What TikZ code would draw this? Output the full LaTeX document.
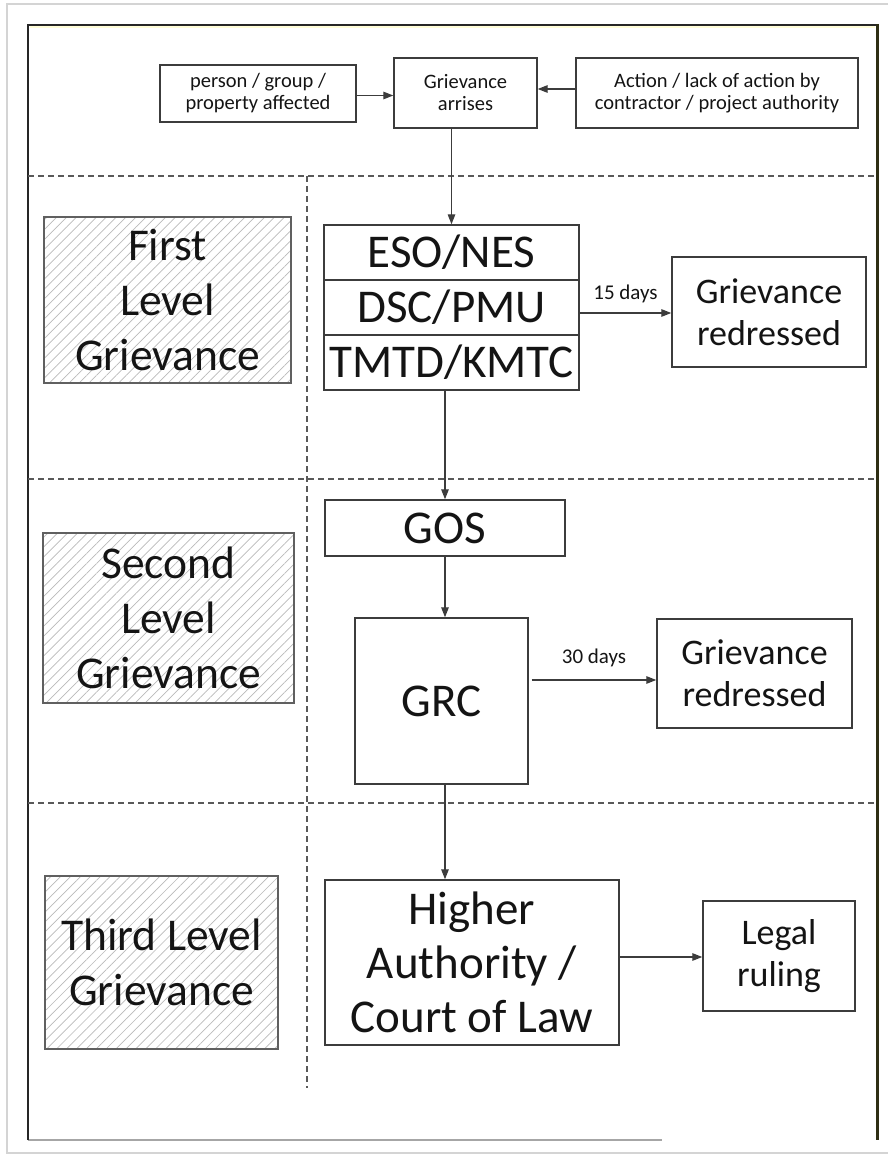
\documentclass[tikz,border=0pt]{standalone}
\usepackage{fontspec}
\setmainfont{Carlito}
\usetikzlibrary{arrows.meta,patterns.meta}
\definecolor{linegray}{HTML}{3C3C3C}
\definecolor{txt}{HTML}{141414}
\definecolor{olive}{HTML}{2E2E14}
\definecolor{frame}{HTML}{D4D4D4}
\begin{document}
\begin{tikzpicture}[x=1pt,y=-1pt,
  box/.style={draw=linegray, line width=1.4pt, inner sep=0pt, align=center, text=txt},
  small/.style={font=\fontsize{20.5}{22}\selectfont},
  big/.style={font=\fontsize{47}{55}\selectfont},
  mid/.style={font=\fontsize{36}{42}\selectfont},
  level/.style={box, line width=1.5pt, draw=gray!75!black,
    pattern={Lines[angle=45,distance=7pt,line width=0.7pt]}, pattern color=gray!55,
    font=\fontsize{45.5}{55}\selectfont},
  arr/.style={draw=linegray, line width=1.3pt, -{Triangle[length=10pt,width=7.5pt]}},
  sep/.style={draw=gray!70!black, line width=1.6pt, dash pattern=on 6pt off 4pt},
  lbl/.style={font=\fontsize{21}{22}\selectfont, text=txt, inner sep=0pt}
]
\useasboundingbox (0,0) rectangle (888,1155);
% outer page frame
\draw[frame, line width=1.5pt] (888,4) -- (7,4) -- (7,1153) -- (888,1153);
% inner frame
\draw[gray!70, line width=1.2pt] (28,1140) -- (662,1140);
\draw[black!85, line width=1.5pt] (28,1140) -- (28,25) -- (877,25);
\draw[yellow!15, line width=2pt] (30,27.5) -- (875,27.5);
\draw[olive, line width=3pt] (877,24) -- (877,1140);

% separators
\draw[sep] (28,176) -- (876,176);
\draw[sep] (28,479) -- (876,479);
\draw[sep] (28,803) -- (876,803);
\draw[sep] (307,176) -- (307,1088);

% top row
\node[box, small, minimum width=196pt, minimum height=57pt] (person) at (258,93.5) {person / group /\\property affected};
\node[box, small, minimum width=143pt, minimum height=70pt] (griev) at (465.5,93) {Grievance\\arrises};
\node[box, small, minimum width=282pt, minimum height=70pt] (action) at (717,93) {Action / lack of action by\\contractor / project authority};

% level boxes
\node[level, minimum width=247pt, minimum height=166pt] (lvl1) at (167.5,300) {First\\Level\\Grievance};
\node[level, minimum width=251pt, minimum height=170pt] (lvl2) at (168.5,618) {Second\\Level\\Grievance};
\node[level, minimum width=233pt, minimum height=173pt] (lvl3) at (161.5,962.5) {Third Level\\Grievance};

% first level stack
\node[box, big, minimum width=255pt, minimum height=55pt] (eso) at (451.5,252.5) {ESO/NES};
\node[box, big, minimum width=255pt, minimum height=55pt] (dsc) at (451.5,307.5) {DSC/PMU};
\node[box, big, minimum width=255pt, minimum height=55pt] (tmtd) at (451.5,362.5) {TMTD/KMTC};
\node[box, mid, minimum width=194pt, minimum height=110pt] (red1) at (769,312) {Grievance\\redressed};

% second level
\node[box, big, minimum width=240pt, minimum height=56pt] (gos) at (445,528) {GOS};
\node[box, big, minimum width=173pt, minimum height=166pt] (grc) at (441.5,701) {GRC};
\node[box, mid, minimum width=195pt, minimum height=109pt] (red2) at (754.5,673.5) {Grievance\\redressed};

% third level
\node[box, font=\fontsize{47}{54}\selectfont, minimum width=294pt, minimum height=165pt] (ha) at (472,962.5) {Higher\\Authority /\\Court of Law};
\node[box, mid, minimum width=152pt, minimum height=110pt] (legal) at (779,956) {Legal\\ruling};

% connectors
\draw[arr] ([yshift=-2pt]person.east) -- ([yshift=-2pt]person.east -| griev.west);
\draw[arr] ([yshift=4pt]action.west) -- ([yshift=4pt]action.west -| griev.east);
\draw[arr] (eso.north |- griev.south) -- (eso.north);
\draw[arr] (dsc.east |- 0,313) -- (red1.west |- 0,313) node[lbl, midway, above=9pt] {15 days};
\draw[arr] (gos.north |- tmtd.south) -- (gos.north);
\draw[arr] (gos.south) -- (gos.south |- grc.north);
\draw[arr] ([xshift=3pt]grc.east |- 0,680) -- (red2.west |- 0,680) node[lbl, midway, above=12pt] {30 days};
\draw[arr] (gos.south |- grc.south) -- (gos.south |- ha.north);
\draw[arr] (ha.east |- 0,957) -- (legal.west |- 0,957);
\end{tikzpicture}
\end{document}
